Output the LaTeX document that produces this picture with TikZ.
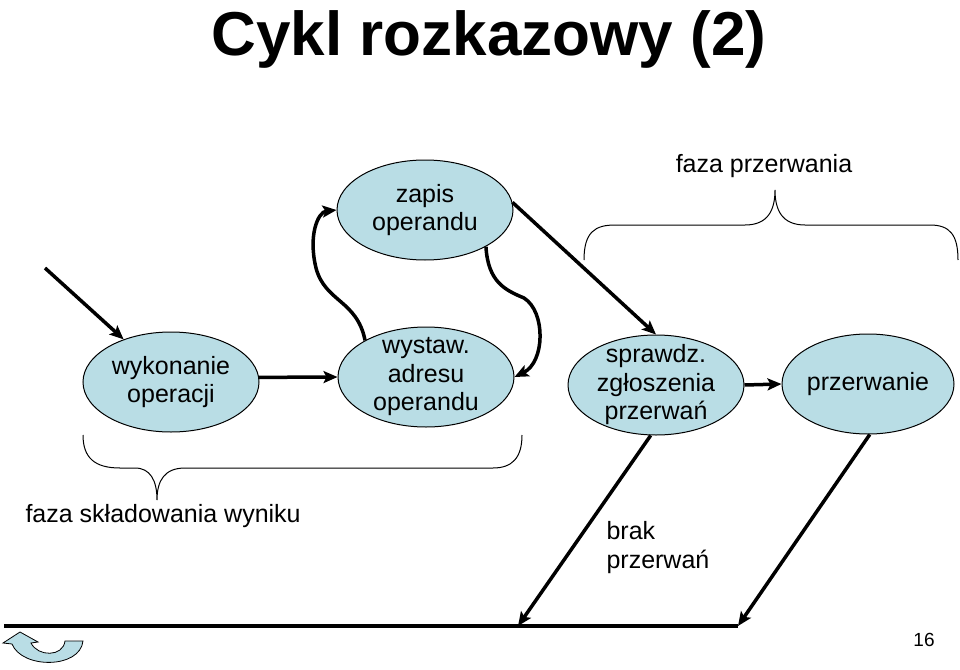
\documentclass[tikz,border=0pt]{standalone}
\usepackage{fontspec}
\setmainfont{Liberation Sans}
\usetikzlibrary{shapes.geometric,arrows.meta}
\definecolor{faza}{RGB}{185,221,229}
\tikzset{
  stan/.style={ellipse,draw,line width=1pt,fill=faza,minimum width=176pt,minimum height=100pt,inner sep=0pt},
  opis/.style={align=center,font=\fontsize{25}{28.5}\selectfont},
  gruba/.style={line width=3.5pt,-{Stealth[length=14pt,width=12pt,inset=3pt]}},
  klamra/.style={line width=1pt}
}
\begin{document}
\begin{tikzpicture}[x=1pt,y=-1pt]
\useasboundingbox (0,0) rectangle (960,669);
\node[anchor=base,font=\fontsize{62}{70}\bfseries] (tytul) at (489,56) {Cykl rozkazowy (2)};
\node[stan,label={[opis]center:{wykonanie\\operacji}}] (wyk) at (171,382) {};
\node[stan,label={[opis]center:{wystaw.\\adresu\\operandu}}] (wys) at (426,377) {};
\node[stan,label={[opis]center:{zapis\\operandu}}] (zap) at (425,210) {};
\node[stan,label={[opis]center:{sprawdz.\\zgłoszenia\\przerwań}}] (spr) at (656,385) {};
\node[stan,minimum width=172pt,label={[opis]center:{przerwanie}}] (prz) at (868,384) {};
\node[anchor=base,opis] (fp) at (764,172) {faza przerwania};
\node[anchor=base west,opis] (fs) at (22,522) {faza składowania wyniku};
\node[anchor=base west,opis,align=left] (brak) at (603,568) {brak\\przerwań};
\node[anchor=base,font=\fontsize{19}{22}\selectfont] (nr) at (924,646) {16};
\coordinate (start) at (45,268);
\coordinate (l0) at (4,626);
\coordinate (b1) at (518,626);
\coordinate (b2) at (738,626);
\coordinate (z1) at (316,268);
\coordinate (z2) at (524,298);
\draw[gruba] (start) -- (wyk.138);
\draw[gruba] (wyk.3) -- (wys.west);
\draw[gruba] (wys.149) .. controls (357,300) and (325,302) .. (z1) .. controls (308,235) and (318,212) .. (zap.west);
\draw[gruba] (zap.-31) .. controls (488,282) and (505,290) .. (z2) .. controls (546,312) and (545,362) .. (wys.east);
\draw[gruba] (zap.5) -- (spr.north);
\draw[gruba] (spr.east) -- (prz.west);
\draw[gruba] (spr.-96) -- (b1);
\draw[gruba] (prz.-88) -- (b2);
\draw[line width=4.5pt] (l0) -- (b2);
\draw[klamra] (584,260) .. controls (584,232) and (595,225) .. (615,225) -- (745,225) .. controls (768,225) and (775,210) .. (775,190) .. controls (775,210) and (782,225) .. (805,225) -- (930,225) .. controls (950,225) and (958,235) .. (958,260);
\draw[klamra] (83,435) .. controls (83,458) and (95,468) .. (120,468) -- (135,468) .. controls (150,468) and (157,480) .. (157,500) .. controls (157,480) and (165,468) .. (185,468) -- (493,468) .. controls (512,468) and (522,458) .. (522,435);
\draw[line width=0.8pt,fill=faza] (83,641) -- (65,641) .. controls (63,657) and (38,657) .. (31,643) -- (38,642) -- (20,632) -- (3,643) -- (12,644) .. controls (22,669) and (80,669) .. (83,641) -- cycle;
\end{tikzpicture}
\end{document}
